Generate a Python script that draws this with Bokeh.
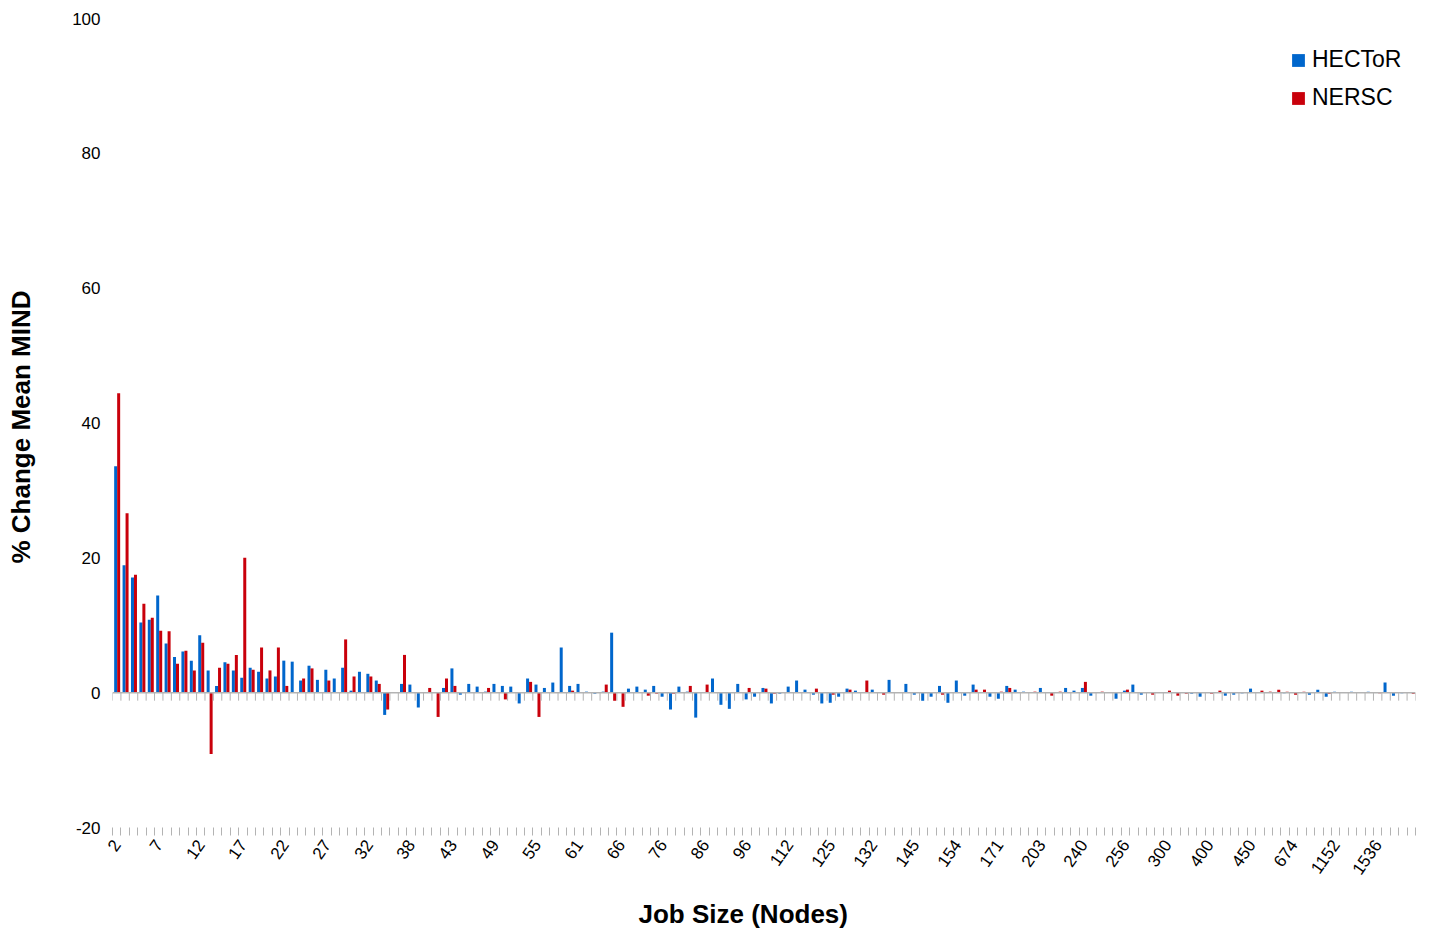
import math

from bokeh.embed import file_html
from bokeh.models import (ColumnDataSource, CustomJSTickFormatter, FixedTicker,
                          Legend, LegendItem, Range1d, Span, Title)
from bokeh.plotting import figure
from bokeh.resources import INLINE
from bokeh.transform import dodge

# Job sizes (nodes), one category per distinct size
job_sizes = [
    "2", "3", "4", "5", "6", "7", "8", "9", "10", "11",
    "12", "13", "14", "15", "16", "17", "18", "19", "20", "21",
    "22", "23", "24", "25", "26", "27", "28", "29", "30", "31",
    "32", "33", "34", "35", "36", "38", "39", "40", "41", "42",
    "43", "44", "45", "46", "48", "49", "50", "51", "52", "54",
    "55", "56", "57", "58", "60", "61", "62", "63", "64", "65",
    "66", "68", "70", "72", "74", "76", "78", "80", "82", "84",
    "86", "88", "90", "92", "94", "96", "100", "104", "108", "110",
    "112", "116", "120", "122", "124", "125", "126", "128", "129", "130",
    "132", "135", "136", "140", "144", "145", "146", "148", "150", "152",
    "154", "156", "160", "164", "168", "171", "176", "180", "192", "200",
    "203", "208", "216", "224", "232", "240", "243", "244", "248", "252",
    "256", "260", "264", "272", "288", "300", "320", "340", "350", "384",
    "400", "412", "416", "432", "448", "450", "480", "500", "512", "600",
    "674", "768", "800", "1000", "1024", "1152", "1200", "1280", "1350", "1500",
    "1536", "2000", "2048", "3072", "4096",
]

# % change in mean MIND per job size
hector = [
    33.6, 18.9, 17.1, 10.4, 10.8, 14.4, 7.3, 5.3, 6.1, 4.75,
    8.5, 3.3, 1.0, 4.5, 3.3, 2.2, 3.7, 3.1, 2.1, 2.4,
    4.75, 4.6, 1.8, 4.0, 1.9, 3.4, 2.1, 3.7, 0.3, 3.1,
    2.8, 1.8, -3.3, 0.0, 1.3, 1.2, -2.2, 0.1, 0.0, 0.7,
    3.6, -0.3, 1.3, 0.9, 0.15, 1.3, 1.0, 0.9, -1.6, 2.1,
    1.2, 0.7, 1.5, 6.7, 1.0, 1.3, 0.15, -0.15, 0.15, 8.9,
    0.0, 0.6, 0.9, 0.45, 1.0, -0.6, -2.5, 0.9, 0.15, -3.7,
    0.0, 2.1, -1.8, -2.4, 1.3, -1.0, -0.6, 0.7, -1.6, -0.15,
    0.9, 1.8, 0.45, -0.3, -1.6, -1.5, -0.6, 0.6, 0.3, 0.0,
    0.45, 0.0, 1.9, 0.0, 1.3, -0.3, -1.2, -0.6, 1.0, -1.5,
    1.8, -0.45, 1.2, 0.0, -0.6, -0.9, 1.0, 0.45, 0.15, 0.0,
    0.7, 0.0, 0.0, 0.7, 0.3, 0.7, -0.45, 0.05, 0.0, -0.9,
    0.3, 1.2, -0.3, 0.0, 0.0, 0.0, 0.0, 0.0, -0.15, -0.6,
    0.0, 0.0, -0.45, -0.3, -0.1, 0.6, 0.0, 0.0, 0.0, -0.1,
    0.0, 0.0, -0.3, 0.45, -0.6, 0.15, 0.0, 0.15, 0.0, 0.15,
    0.0, 1.5, -0.45, -0.1, 0.0,
]
nersc = [
    44.4, 26.6, 17.5, 13.2, 11.1, 9.2, 9.1, 4.3, 6.2, 3.3,
    7.4, -9.1, 3.7, 4.3, 5.6, 20.0, 3.4, 6.7, 3.3, 6.7,
    1.0, 0.0, 2.1, 3.6, 0.0, 1.8, 0.0, 7.9, 2.4, 0.0,
    2.4, 1.3, -2.5, 0.0, 5.6, 0.0, 0.0, 0.7, -3.6, 2.1,
    1.0, 0.0, 0.0, 0.0, 0.7, 0.0, -1.0, 0.0, 0.0, 1.6,
    -3.6, 0.0, 0.0, 0.0, 0.3, 0.0, 0.0, 0.0, 1.2, -1.2,
    -2.1, 0.0, 0.0, -0.45, -0.15, 0.0, -0.15, 0.0, 1.0, 0.0,
    1.2, 0.0, 0.0, 0.0, 0.0, 0.7, 0.0, 0.6, -0.15, 0.0,
    0.0, 0.0, 0.0, 0.6, 0.0, -0.3, 0.0, 0.45, 0.0, 1.8,
    0.0, -0.3, 0.0, 0.0, 0.0, 0.0, 0.0, 0.0, -0.3, 0.0,
    0.0, 0.0, 0.45, 0.45, 0.0, 0.15, 0.7, 0.0, 0.0, 0.15,
    0.0, -0.45, 0.15, 0.0, 0.0, 1.6, 0.0, 0.15, 0.0, 0.0,
    0.45, 0.0, 0.0, -0.3, 0.0, 0.3, -0.45, -0.15, 0.0, 0.0,
    -0.15, 0.3, 0.0, 0.0, 0.0, 0.0, 0.3, 0.15, 0.45, 0.15,
    -0.3, 0.15, 0.0, 0.0, -0.15, 0.0, 0.0, 0.0, 0.1, 0.0,
    -0.1, 0.0, 0.0, 0.0, -0.15,
]

y_ticks = [-20, 0, 20, 40, 60, 80, 100]

BLUE = "#0066cc"
RED = "#c9000b"
AXIS_GREY = "#b3b3b3"
FONT = "Liberation Sans"

n = len(job_sizes)
idx = list(range(n))

W, H = 1431, 947
BORDER_L, BORDER_R, BORDER_T, BORDER_B = 112, 16, 18, 112
Y_TOP = 100
PX_PER_UNIT = 809 / 120.0
frame_h = H - BORDER_T - BORDER_B
y_bottom = Y_TOP - frame_h / PX_PER_UNIT

p = figure(
    width=W, height=H,
    output_backend="svg", toolbar_location=None,
    x_range=Range1d(0, n), y_range=Range1d(y_bottom, Y_TOP),
    min_border_left=BORDER_L, min_border_right=BORDER_R,
    min_border_top=BORDER_T, min_border_bottom=BORDER_B,
)
p.outline_line_color = None
p.xgrid.visible = False
p.ygrid.visible = False

src = ColumnDataSource(dict(idx=idx, size=job_sizes, hector=hector, nersc=nersc))

bar_w = 0.357
r_h = p.vbar(x=dodge("idx", 0.377, range=p.x_range), top="hector", bottom=0,
             width=bar_w, source=src, fill_color=BLUE, line_color=None)
r_n = p.vbar(x=dodge("idx", 0.733, range=p.x_range), top="nersc", bottom=0,
             width=bar_w, source=src, fill_color=RED, line_color=None)

# zero line with category-boundary ticks hanging below it
p.add_layout(Span(location=0, dimension="width", line_color=AXIS_GREY, line_width=1.5))
tick_len = 8 / PX_PER_UNIT
p.segment(x0=idx + [n], y0=0, x1=idx + [n], y1=-tick_len,
          line_color=AXIS_GREY, line_width=1)

# x axis: labels on every fifth category, boundary ticks on every category
xa = p.xaxis[0]
xa.ticker = FixedTicker(ticks=[i + 0.5 for i in range(0, n, 5)],
                        minor_ticks=list(range(n + 1)))
xa.formatter = CustomJSTickFormatter(args=dict(labels=job_sizes),
                                     code="return labels[Math.floor(tick)];")
xa.axis_line_color = None
xa.major_tick_line_color = None
xa.major_tick_in = 0
xa.major_tick_out = 0
xa.minor_tick_line_color = AXIS_GREY
xa.minor_tick_in = 8
xa.minor_tick_out = 0
xa.major_label_orientation = math.radians(55)
xa.major_label_standoff = 6
xa.major_label_text_font = FONT
xa.major_label_text_font_size = "17px"
xa.major_label_text_color = "#000000"

ya = p.yaxis[0]
ya.ticker = FixedTicker(ticks=y_ticks)
ya.major_label_overrides = {t: str(t) for t in y_ticks}
ya.axis_line_color = None
ya.major_tick_line_color = None
ya.minor_tick_line_color = None
ya.major_tick_in = 0
ya.major_tick_out = 0
ya.minor_tick_in = 0
ya.minor_tick_out = 0
ya.major_label_standoff = 12
ya.major_label_text_font = FONT
ya.major_label_text_font_size = "17px"
ya.major_label_text_color = "#000000"
ya.axis_label = "% Change Mean MIND"
ya.axis_label_standoff = 33
ya.axis_label_text_font = FONT
ya.axis_label_text_font_style = "bold"
ya.axis_label_text_font_size = "26px"
ya.axis_label_text_color = "#000000"

# x-axis title in the panel below the tick labels
p.add_layout(Title(
    text="Job Size (Nodes)", align="left", offset=526,
    standoff=28, text_font=FONT, text_font_style="bold",
    text_font_size="26px", text_color="#000000",
), "below")

legend = Legend(
    items=[LegendItem(label="HECToR", renderers=[r_h]),
           LegendItem(label="NERSC", renderers=[r_n])],
    location=(1178, 724),
    glyph_width=16, glyph_height=16,
    label_text_font=FONT, label_text_font_size="23px", label_text_color="#000000",
    label_standoff=6, spacing=11, padding=0, margin=0,
    border_line_color=None, background_fill_alpha=0,
)
p.add_layout(legend)

open("out.html", "w").write(file_html(p, INLINE))
